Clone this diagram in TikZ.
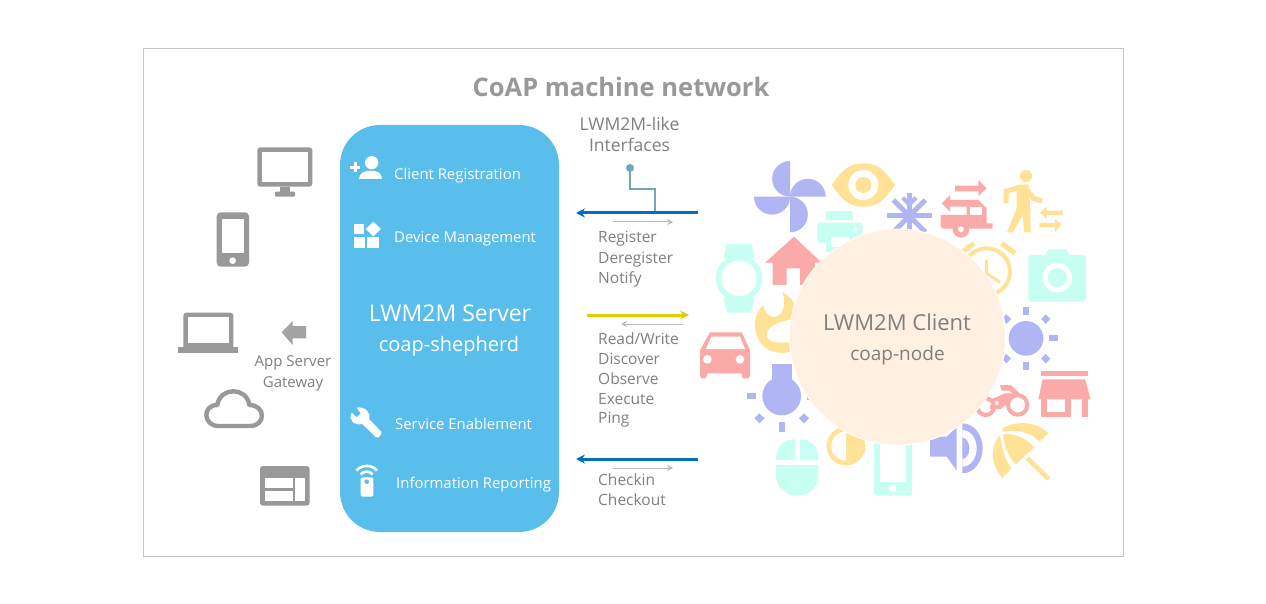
\documentclass[tikz,border=0pt]{standalone}
\usepackage{fontspec}
\setmainfont{Open Sans}
\definecolor{sky}{HTML}{5ABEEC}
\definecolor{gry}{HTML}{999999}
\definecolor{txt}{HTML}{808080}
\definecolor{ylw}{HTML}{FFE296}
\definecolor{sal}{HTML}{FAABA9}
\definecolor{per}{HTML}{B0B5F3}
\definecolor{mnt}{HTML}{C8FFF3}
\definecolor{bge}{HTML}{FFF0E2}
\definecolor{blu}{HTML}{0070C0}
\definecolor{yel}{HTML}{DDD000}
\definecolor{tea}{HTML}{6FA8BA}
\definecolor{thn}{HTML}{BDBDBD}
\tikzset{
 zA/.style={shift={(700,150)},x=0.33333pt,y=-0.33333pt},
 zB/.style={shift={(700,320)},x=0.33333pt,y=-0.33333pt},
 zC/.style={shift={(160,130)},x=0.33333pt,y=-0.33333pt},
 zD/.style={shift={(160,320)},x=0.33333pt,y=-0.33333pt},
 zE/.style={shift={(745,285)},x=0.33333pt,y=-0.33333pt},
 zF/.style={shift={(970,360)},x=0.33333pt,y=-0.33333pt},
 lbl/.style={text=txt,font=\fontsize{15.5}{16}\selectfont,anchor=base west,inner sep=0pt},
 ctr/.style={text=txt,font=\fontsize{15}{15}\selectfont,anchor=base,inner sep=0pt},
 svc/.style={text=white,font=\fontsize{14.9}{15}\selectfont,anchor=base west,inner sep=0pt},
 wire/.style={line width=3pt,-{Stealth[length=9pt,width=9pt]}},
 thin arrow/.style={line width=1pt,thn,-{Stealth[length=6pt,width=6pt]}},
}
\usetikzlibrary{arrows.meta}
\begin{document}
\begin{tikzpicture}[x=1pt,y=-1pt]
\useasboundingbox (0,0) rectangle (1266,604);
\fill[white] (0,0) rectangle (1266,604);
\node[draw=black!22,line width=0.8pt,minimum width=980pt,minimum height=508pt,inner sep=0pt] (frame) at (633,302) {};
\node[text=gry,font=\fontsize{25.5}{26}\selectfont\bfseries,inner sep=0pt,anchor=base] (title) at (621,96.5) {CoAP machine network};
% right icon cloud
\begin{scope}[zA]
 % pinwheel
 \fill[per] (270,33) arc[start angle=270,end angle=90,radius=53.5] -- cycle;
 \fill[per] (377,140) arc[start angle=0,end angle=-180,radius=53.5] -- cycle;
 \fill[per] (270,247) arc[start angle=90,end angle=-90,radius=53.5] -- cycle;
 \fill[per] (162,140) arc[start angle=180,end angle=0,radius=54] -- cycle;
 % eye
 \fill[ylw] (395,105) .. controls (430,55) and (450,40) .. (490,40) .. controls (530,40) and (550,55) .. (585,105) .. controls (550,155) and (530,170) .. (490,170) .. controls (450,170) and (430,155) .. (395,105) -- cycle;
 \fill[white] (490,105) circle[radius=45];
 \fill[ylw] (490,105) circle[radius=24];
 % snowflake
 \begin{scope}[per,line width=5pt]
  \draw (562,198) -- (696,198);
  \draw (628,130) -- (628,264);
  \draw (580,150) -- (676,246);
  \draw (676,150) -- (580,246);
  \draw[line width=4pt] (608,143) -- (628,163) -- (648,143);
 \end{scope}
 % caravan
 \fill[sal] (765,107) -- (835,107) -- (835,90) -- (860,115) -- (835,138) -- (835,124) -- (765,124) -- cycle;
 \fill[sal] (725,160) -- (750,135) -- (750,150) -- (835,150) -- (860,175) -- (860,220) -- (878,220) -- (878,236) -- (728,236) -- (722,228) -- (722,195) -- (800,195) -- (800,170) -- (750,170) -- (750,185) -- cycle;
 \fill[white] (810,172) rectangle (845,195);
 \fill[sal] (783,238) circle[radius=25];
 \fill[white] (783,238) circle[radius=9];
 % walker
 \fill[ylw] (978,78) circle[radius=18];
 \begin{scope}[ylw]
  \draw[line width=5pt] (918,160) -- (918,124) -- (965,110);
  \draw[line width=5pt] (975,112) -- (1000,145) -- (1027,153);
  \fill (950,105) -- (985,103) -- (992,185) -- (950,185) -- cycle;
  \fill (950,175) -- (974,185) -- (938,247) -- (921,247) -- cycle;
  \fill (966,180) -- (990,175) -- (992,247) -- (973,247) -- cycle;
 \end{scope}
 \fill[ylw] (1020,188) -- (1040,170) -- (1040,182) -- (1088,182) -- (1088,195) -- (1040,195) -- (1040,206) -- cycle;
 \fill[ylw] (1085,225) -- (1065,207) -- (1065,219) -- (1018,219) -- (1018,232) -- (1065,232) -- (1065,245) -- cycle;
 % printer
 \fill[mnt] (378,183) rectangle (460,210);
 \fill[mnt,rounded corners=2pt] (352,218) rectangle (487,278);
 \fill[white] (465,238) circle[radius=6];
 \fill[mnt] (378,255) rectangle (460,305);
 \fill[white] (392,260) rectangle (447,290);
 % watch
 \fill[mnt] (117,385) circle[radius=70];
 \fill[mnt] (80,282) -- (155,282) -- (165,325) -- (70,325) -- cycle;
 \fill[mnt] (70,445) -- (165,445) -- (152,488) -- (82,488) -- cycle;
 \fill[white] (117,385) circle[radius=53];
 % house
 \fill[sal] (195,338) -- (282,260) -- (365,338) -- (345,338) -- (345,405) -- (300,405) -- (300,355) -- (260,355) -- (260,405) -- (218,405) -- (218,338) -- cycle;
\end{scope}
\begin{scope}[zE]
 % flame
 \fill[ylw] (112,22) .. controls (130,30) and (145,45) .. (155,70) -- (160,200) -- (135,200) .. controls (100,210) and (60,200) .. (42,165) .. controls (22,130) and (25,90) .. (55,60) .. controls (58,85) and (75,97) .. (90,96) .. controls (115,92) and (125,55) .. (112,22) -- cycle;
 \fill[white] (160,100) .. controls (120,105) and (85,115) .. (70,135) .. controls (58,155) and (70,170) .. (95,172) .. controls (115,175) and (135,170) .. (160,170) -- cycle;
\end{scope}
\begin{scope}[zB]
 % car
 \fill[sal] (30,37) -- (125,37) -- (150,90) -- (150,168) -- (145,175) -- (128,175) -- (124,160) -- (22,160) -- (18,175) -- (4,175) -- (0,168) -- (0,90) -- cycle;
 \fill[white] (34,50) -- (120,50) -- (135,87) -- (18,87) -- cycle;
 \fill[white] (22,118) circle[radius=13];
 \fill[white] (120,118) circle[radius=13];
 % bulb
 \fill[per] (245,228) circle[radius=58];
 \fill[per] (217,132) rectangle (275,185);
 \fill[per] (140,220) rectangle (168,238);
 \fill[per] (236,307) rectangle (255,335);
 \fill[per] (322,222) rectangle (340,240);
 \fill[per] (178,280) -- (194,295) -- (178,310) -- (163,295) -- cycle;
 \fill[per] (312,280) -- (327,295) -- (312,310) -- (297,295) -- cycle;
 % sun
 \fill[per] (978,55) circle[radius=52];
 \fill[per] (969,-40) rectangle (987,-15);
 \fill[per] (969,125) rectangle (987,150);
 \fill[per] (1047,46) rectangle (1073,64);
 \fill[per] (1037,-17) -- (1051,-3) -- (1037,11) -- (1023,-3) -- cycle;
 \fill[per] (1037,102) -- (1051,116) -- (1037,130) -- (1023,116) -- cycle;
 \fill[per] (919,102) -- (933,116) -- (919,130) -- (905,116) -- cycle;
 \fill[per] (919,-17) -- (933,-3) -- (919,11) -- (905,-3) -- cycle;
 % half disc
 \fill[ylw] (438,378) circle[radius=58];
 \fill[white] (438,334) arc[start angle=270,end angle=90,radius=44] -- cycle;
 % phone
 \fill[mnt,rounded corners=3pt] (522,340) rectangle (636,527);
 \fill[white] (540,340) rectangle (618,485);
 \fill[white] (578,505) circle[radius=12];
 % speaker
 \fill[per] (690,350) -- (740,350) -- (770,322) -- (770,452) -- (740,410) -- (690,410) -- cycle;
 \fill[per] (787,310) arc[start angle=-90,end angle=90,x radius=61,y radius=75] -- cycle;
 \fill[white] (787,330) arc[start angle=-90,end angle=90,x radius=43,y radius=55] -- cycle;
 \fill[per] (787,353) arc[start angle=-90,end angle=90,x radius=21,y radius=32] -- cycle;
 % mouse
 \fill[mnt] (228,420) .. controls (228,380) and (250,358) .. (285,358) -- (285,420) -- cycle;
 \fill[mnt] (300,358) .. controls (335,358) and (355,380) .. (355,420) -- (300,420) -- cycle;
 \fill[mnt] (228,435) -- (355,435) -- (355,465) .. controls (355,505) and (325,527) .. (292,527) .. controls (258,527) and (228,505) .. (228,465) -- cycle;
\end{scope}
\begin{scope}[zF]
 % motorbike
 \draw[sal,line width=4pt] (143,135) circle[radius=29];
 \draw[sal,line width=4pt] (47,140) circle[radius=25];
 \fill[sal] (90,75) -- (122,75) -- (152,103) -- (140,112) -- (118,92) -- (95,92) -- cycle;
 \fill[sal] (50,124) -- (105,100) -- (130,100) -- (118,125) -- (92,147) -- (60,147) -- (60,135) -- (85,135) -- (85,124) -- cycle;
 % shop
 \fill[sal] (213,32) rectangle (353,48);
 \fill[sal] (218,58) -- (345,58) -- (362,118) -- (205,118) -- cycle;
 \fill[sal] (213,118) rectangle (230,172);
 \fill[sal] (230,155) rectangle (303,172);
 \fill[sal] (285,118) rectangle (303,172);
 \fill[sal] (335,118) rectangle (353,172);
 % umbrella
 \fill[ylw] (97,205) .. controls (145,180) and (200,185) .. (235,220) -- (208,245) .. controls (180,215) and (140,208) .. (97,215) -- cycle;
 \fill[ylw] (100,222) .. controls (135,220) and (170,235) .. (192,262) -- (137,313) .. controls (115,290) and (100,255) .. (100,222) -- cycle;
 \fill[ylw] (90,225) .. controls (95,265) and (105,300) .. (124,325) -- (97,354) .. controls (60,310) and (60,260) .. (90,225) -- cycle;
 \draw[ylw,line width=4.6pt] (172,295) -- (236,357);
\end{scope}
\begin{scope}[zA]
 % alarm clock
 \begin{scope}[ylw]
  \draw[line width=4pt] (860,365) circle[radius=70];
  \draw[line width=5pt] (785,308) -- (822,280);
  \draw[line width=5pt] (905,280) -- (945,310);
  \draw[line width=3pt] (860,330) -- (860,370) -- (900,397);
 \end{scope}
 % camera
 \fill[mnt,rounded corners=3pt] (985,315) rectangle (1158,455);
 \fill[mnt] (1032,320) -- (1045,298) -- (1100,298) -- (1112,320) -- cycle;
 \fill[white] (1072,383) circle[radius=44];
 \fill[mnt] (1072,383) circle[radius=29];
\end{scope}
% client
\node[circle,fill=bge,draw=white,line width=0.8pt,minimum size=216pt,inner sep=0pt] (client) at (897.5,337) {};
\node[text=txt,font=\fontsize{22}{22}\selectfont,anchor=base,inner sep=0pt] (clientA) at (897,330) {LWM2M Client};
\node[text=txt,font=\fontsize{19}{19}\selectfont,anchor=base,inner sep=0pt] (clientB) at (897.5,360) {coap-node};
% server
\node[rounded corners=40pt,fill=sky,minimum width=219pt,minimum height=407pt,inner sep=0pt] (server) at (449.5,328.5) {};
\node[text=white,font=\fontsize{23}{23}\selectfont,anchor=base,inner sep=0pt] (serverA) at (450,321) {LWM2M Server};
\node[text=white,font=\fontsize{20}{20}\selectfont,anchor=base,inner sep=0pt] (serverB) at (449,351) {coap-shepherd};
\node[svc] (s1) at (394,179.5) {Client Registration};
\node[svc] (s2) at (394,242) {Device Management};
\node[svc] (s3) at (395,429) {Service Enablement};
\node[svc] (s4) at (396,488.5) {Information Reporting};
\begin{scope}[zC,white]
 \fill (635,98) circle[radius=20];
 \fill (597,147) .. controls (597,128) and (615,122) .. (632,122) .. controls (650,122) and (666,128) .. (666,147) -- cycle;
 \draw[line width=3pt] (570,112) -- (600,112);
 \draw[line width=3pt] (585,97) -- (585,127);
 \fill (582,282) rectangle (612,313);
 \fill (582,322) rectangle (614,354);
 \fill (622,322) rectangle (658,354);
 \fill (640,275) -- (663,297) -- (640,319) -- (617,297) -- cycle;
 % grey device icons
 \fill[gry,rounded corners=3pt] (292,52) rectangle (457,170);
 \fill[white] (305,65) rectangle (445,155);
 \fill[gry] (360,170) rectangle (390,186);
 \fill[gry,rounded corners=1pt] (345,185) rectangle (405,200);
 \fill[gry,rounded corners=4pt] (170,247) rectangle (267,410);
 \fill[white] (185,267) rectangle (252,370);
 \fill[white] (218,392) circle[radius=10];
\end{scope}
\begin{scope}[zD]
 % laptop
 \fill[gry,rounded corners=3pt] (70,-22) rectangle (220,90);
 \fill[white] (85,-8) rectangle (207,70);
 \fill[gry] (55,82) rectangle (235,98);
 % arrow
 \fill[gry!90] (365,37) -- (398,3) -- (398,18) -- (438,18) -- (438,55) -- (398,55) -- (398,75) -- cycle;
 % cloud
 \draw[gry,line width=4.4pt,line join=round] (175,318) .. controls (130,318) and (125,255) .. (172,255) .. controls (180,200) and (260,200) .. (268,255) .. controls (318,255) and (318,318) .. (270,318) -- cycle;
 % window
 \fill[gry,rounded corners=3pt] (300,438) rectangle (449,557);
 \fill[white] (315,475) rectangle (398,505);
 \fill[white] (315,513) rectangle (398,543);
 \fill[white] (406,475) rectangle (435,543);
 % wrench
 \fill[white] (575,278) -- (590,292) -- (602,280) -- (590,263) .. controls (615,258) and (635,280) .. (628,298) -- (664,335) -- (664,342) -- (656,352) -- (648,352) -- (607,312) .. controls (585,318) and (562,300) .. (575,278) -- cycle;
 % remote
 \fill[white,rounded corners=2pt] (602,472) rectangle (640,530);
 \fill[sky] (620,485) circle[radius=7];
 \draw[white,line width=2.6pt] (589,452) .. controls (605,433) and (635,433) .. (651,452);
 \draw[white,line width=2.6pt] (602,463) .. controls (612,452) and (628,452) .. (638,463);
\end{scope}
\node[ctr] (gwA) at (293,366) {App Server};
\node[ctr] (gwB) at (293,387) {Gateway};
% connectors
\node[ctr,font=\fontsize{17.5}{18}\selectfont] (ifA) at (629.5,131) {LWM2M-like};
\node[ctr,font=\fontsize{17.5}{18}\selectfont] (ifB) at (629.5,152) {Interfaces};
\coordinate (a1) at (698,213); \coordinate (a2) at (576,213);
\coordinate (b1) at (587,315); \coordinate (b2) at (689,315);
\coordinate (c1) at (698,459); \coordinate (c2) at (576,459);
\coordinate (t1) at (613,222); \coordinate (t2) at (673,222);
\coordinate (u1) at (683,324); \coordinate (u2) at (621,324);
\coordinate (v1) at (613,468); \coordinate (v2) at (673,468);
\node[circle,fill=tea,minimum size=8pt,inner sep=0pt] (dot) at (630,168) {};
\coordinate (dotEnd) at (655,212);
\draw[tea,line width=1.6pt] (dot.center) |- (655,189) -- (dotEnd);
\draw[wire,blu] (a1) -- (a2);
\draw[wire,yel] (b1) -- (b2);
\draw[wire,blu] (c1) -- (c2);
\draw[thin arrow] (t1) -- (t2);
\draw[thin arrow] (u1) -- (u2);
\draw[thin arrow] (v1) -- (v2);
\node[lbl] (l1) at (598,243) {Register};
\node[lbl] (l2) at (598,263) {Deregister};
\node[lbl] (l3) at (598,283) {Notify};
\node[lbl] (m1) at (598,344) {Read/Write};
\node[lbl] (m2) at (598,364) {Discover};
\node[lbl] (m3) at (598,384) {Observe};
\node[lbl] (m4) at (598,404) {Execute};
\node[lbl] (m5) at (598,423) {Ping};
\node[lbl] (n1) at (598,485) {Checkin};
\node[lbl] (n2) at (598,505) {Checkout};
\end{tikzpicture}
\end{document}
